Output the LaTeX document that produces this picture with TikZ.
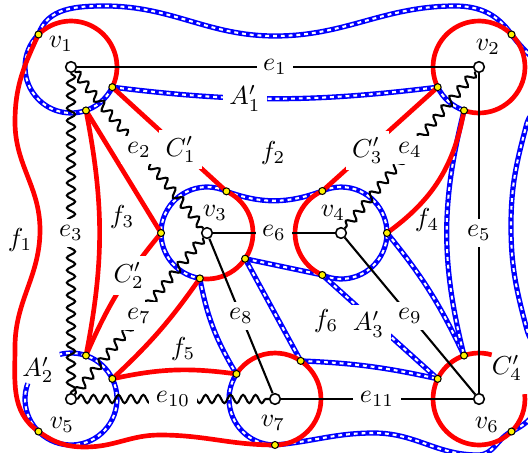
\documentclass[tikz,border=0pt]{standalone}
\usetikzlibrary{calc, decorations.pathmorphing}

\newcommand{\ringr}{17.7pt}

\begin{document}
\begin{tikzpicture}[
    x=0.385pt, y=0.385pt,
    % --- styles ---
    vtx/.style={circle, draw, fill=white, line width=0.6pt,
      inner sep=0pt, minimum size=4.1pt},
    hit/.style={circle, draw, fill=yellow, line width=0.4pt,
      inner sep=0pt, minimum size=2.7pt},
    face/.style={red, line width=1.8pt},
    ribbon/.style={draw=white, line width=0.8pt,
      dash pattern=on 1.5pt off 1.5pt,
      preaction={draw=blue, solid, line width=2pt}},
    edge/.style={line width=0.8pt},
    wavy/.style={edge, decorate,
      decoration={snake, amplitude=1.6pt, segment length=4.8pt}},
    lbl/.style={fill=white, text=black, inner sep=2.5pt},
  ]
  \useasboundingbox (0,0) rectangle (528,452);
  \clip (0,0) rectangle (528,452);

  % ── vertices ──
  \node[vtx] (v1) at (71,385) {};
  \node[vtx] (v2) at (479,385) {};
  \node[vtx] (v3) at (207,219) {};
  \node[vtx] (v4) at (341,219) {};
  \node[vtx] (v5) at (71,53) {};
  \node[vtx] (v6) at (479,53) {};
  \node[vtx] (v7) at (275,53) {};

  % ── crossing points on the rings ──
  \coordinate (v1a) at ($(v1)+(135:\ringr)$);
  \coordinate (v1b) at ($(v1)+(-26:\ringr)$);
  \coordinate (v1c) at ($(v1)+(-71:\ringr)$);
  \coordinate (v2a) at ($(v2)+(45:\ringr)$);
  \coordinate (v2b) at ($(v2)+(206:\ringr)$);
  \coordinate (v2c) at ($(v2)+(251:\ringr)$);
  \coordinate (v3a) at ($(v3)+(65:\ringr)$);
  \coordinate (v3b) at ($(v3)+(180:\ringr)$);
  \coordinate (v3c) at ($(v3)+(261:\ringr)$);
  \coordinate (v3d) at ($(v3)+(326:\ringr)$);
  \coordinate (v4a) at ($(v4)+(114:\ringr)$);
  \coordinate (v4b) at ($(v4)+(0:\ringr)$);
  \coordinate (v4c) at ($(v4)+(246:\ringr)$);
  \coordinate (v5a) at ($(v5)+(71:\ringr)$);
  \coordinate (v5b) at ($(v5)+(26:\ringr)$);
  \coordinate (v5c) at ($(v5)+(225:\ringr)$);
  \coordinate (v6a) at ($(v6)+(109:\ringr)$);
  \coordinate (v6b) at ($(v6)+(154:\ringr)$);
  \coordinate (v6c) at ($(v6)+(315:\ringr)$);
  \coordinate (v7a) at ($(v7)+(147:\ringr)$);
  \coordinate (v7b) at ($(v7)+(56:\ringr)$);
  \coordinate (v7c) at ($(v7)+(270:\ringr)$);

  % ── blue ribbons ──
  \draw[ribbon] (v1a) arc[start angle=135, end angle=334, radius=\ringr];
  \draw[ribbon] (v2b) arc[start angle=206, end angle=251, radius=\ringr];
  \draw[ribbon] (v3a) arc[start angle=65, end angle=261, radius=\ringr];
  \draw[ribbon] (v4c) arc[start angle=246, end angle=474, radius=\ringr];
  \draw[ribbon] ($(v5)+(160:\ringr)$) arc[start angle=160, end angle=464, radius=\ringr];
  \draw[ribbon] (v7a) arc[start angle=147, end angle=270, radius=\ringr];

  \draw[ribbon] (v1a) to[out=72, in=180] (105,446) to[out=0, in=180] (275,416)
    to[out=0, in=180] (455,446) to[out=0, in=125] (v2a)
    to[out=-55, in=90] (548,360) to[out=-90, in=75] (527,329)
    to[out=255, in=90] (511,226) to[out=-90, in=105] (527,122)
    to[out=-75, in=90] (548,80) to[out=-90, in=25] (v6c)
    to[out=205, in=0] (478,-3) to[out=180, in=0] (374,19)
    to[out=180, in=5] (v7c);

  \draw[ribbon] (v1b) to[bend right=7] node[lbl, pos=0.4] {$A'_1$} (v2b);
  \draw[ribbon] (v3a) to[bend right=20] (v4a);
  \draw[ribbon] (v3d) -- (v4c);
  \draw[ribbon] (v4c) -- node[lbl, pos=0.4, yshift=-3pt] {$A'_3$} (v6b);
  \draw[ribbon] (v3c) to[bend right=10] (v7a);
  \draw[ribbon] (v3d) -- (v7b);
  \draw[ribbon] (v7b) to[bend left=5] (v6b);
  \draw[ribbon] (v4b) to[bend left=7] (v6a);
  \draw[ribbon] (v2c) to[bend right=14] (v6a);

  % ── red faces ──
  \draw[face] (v1b) arc[start angle=-26, end angle=135, radius=\ringr];
  \draw[face] (v2c) arc[start angle=-109, end angle=206, radius=\ringr];
  \draw[face] (v3c) arc[start angle=-99, end angle=65, radius=\ringr];
  \draw[face] (v4a) arc[start angle=114, end angle=246, radius=\ringr];
  \draw[face] ($(v6)+(74:\ringr)$) arc[start angle=74, end angle=366, radius=\ringr];
  \draw[face] (v7c) arc[start angle=-90, end angle=147, radius=\ringr];

  \draw[face] (v1b) -- node[lbl, pos=0.6] {$C'_1$} (v3a);
  \draw[face] (v1c) -- (v3b);
  \draw[face] (v3b) to[bend right=8] node[lbl, pos=0.36] {$C'_2$} (v5a);
  \draw[face] (v1c) to[bend left=11] (v5a);
  \draw[face] (v2b) -- node[lbl, pos=0.61] {$C'_3$} (v4a);
  \draw[face] (v2c) to[bend left=22] (v4b);
  \draw[face] (v5b) to[bend right=6] (v3c);
  \draw[face] (v5b) to[bend left=10] (v7a);

  \draw[face] (v1a) to[out=245, in=90] (15,330) to[out=-90, in=90] (40,222)
    to[out=-90, in=90] (15,105) to[out=-90, in=145] (v5c)
    to[out=-35, in=180] (85,5) to[out=0, in=180] (160,17)
    to[out=0, in=180] (v7c);

  % ── graph edges ──
  \draw[edge] (v1) -- node[lbl] {$e_1$} (v2);
  \draw[wavy] (v1) -- node[lbl] {$e_2$} (v3);
  \draw[wavy] (v1) -- node[lbl] {$e_3$} (v5);
  \draw[wavy] (v2) -- node[lbl] {$e_4$} (v4);
  \draw[edge] (v2) -- node[lbl] {$e_5$} (v6);
  \draw[edge] (v3) -- node[lbl] {$e_6$} (v4);
  \draw[wavy] (v3) -- node[lbl] {$e_7$} (v5);
  \draw[edge] (v3) -- node[lbl] {$e_8$} (v7);
  \draw[edge] (v4) -- node[lbl] {$e_9$} (v6);
  \draw[wavy] (v5) -- node[lbl] {$e_{10}$} (v7);
  \draw[edge] (v7) -- node[lbl] {$e_{11}$} (v6);

  % ── labels ──
  \node (lv1) at ($(v1)+(-10,23)$) {$v_1$};
  \node (lv2) at ($(v2)+(9,20)$) {$v_2$};
  \node (lv3) at ($(v3)+(8,20)$) {$v_3$};
  \node (lv4) at ($(v4)+(-8,20)$) {$v_4$};
  \node (lv5) at ($(v5)+(-9,-26)$) {$v_5$};
  \node (lv6) at ($(v6)+(8,-26)$) {$v_6$};
  \node (lv7) at ($(v7)+(-2,-24)$) {$v_7$};

  \node (f1) at (20,212) {$f_1$};
  \node (f2) at (273,299) {$f_2$};
  \node (f3) at (122,235) {$f_3$};
  \node (f4) at (427,232) {$f_4$};
  \node (f5) at (183,103) {$f_5$};
  \node (f6) at (326,131) {$f_6$};
  \node (a2) at (38,82) {$A'_2$};
  \node (c4) at (507,84) {$C'_4$};

  % ── crossing dots ──
  \foreach \d in {v1a,v1b,v1c,v2a,v2b,v2c,v3a,v3b,v3c,v3d,v4a,v4b,v4c,
                  v5a,v5b,v5c,v6a,v6b,v6c,v7a,v7b,v7c}
    \node[hit] at (\d) {};

\end{tikzpicture}
\end{document}
